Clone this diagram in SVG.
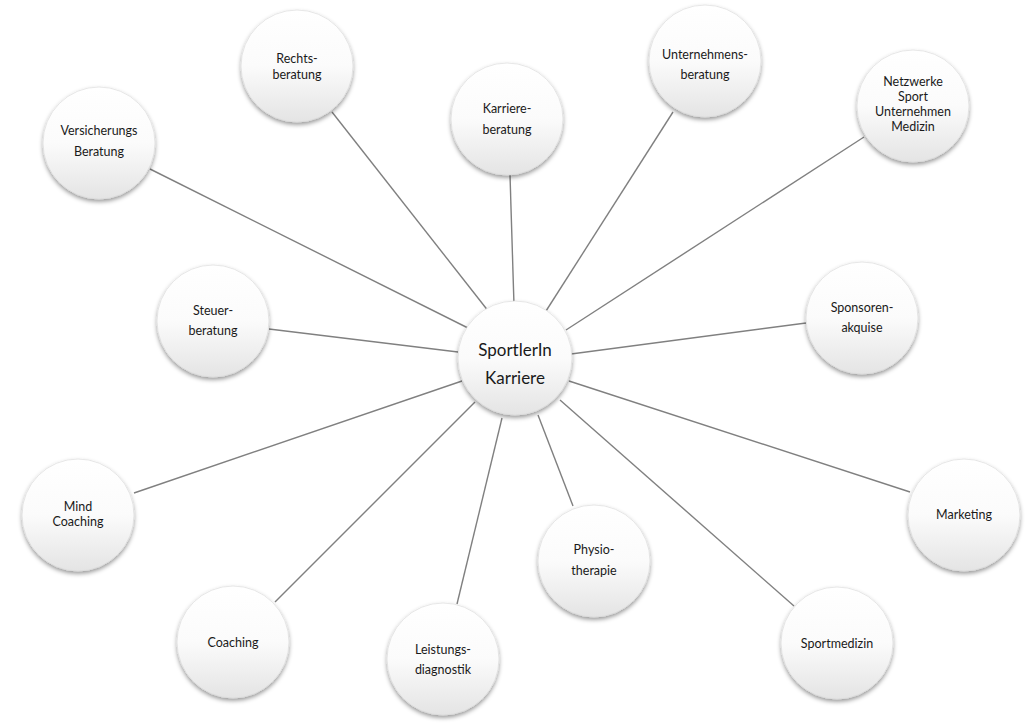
<svg xmlns="http://www.w3.org/2000/svg" width="1032" height="723" viewBox="0 0 1032 723">
<defs>
<linearGradient id="g" x1="0" y1="0" x2="0" y2="1">
<stop offset="0" stop-color="#ffffff"/>
<stop offset="0.5" stop-color="#fbfbfb"/>
<stop offset="1" stop-color="#e4e4e4"/>
</linearGradient>
<filter id="sh" x="-20%" y="-20%" width="140%" height="150%">
<feDropShadow dx="0" dy="2.5" stdDeviation="2" flood-color="#000" flood-opacity="0.4"/>
</filter>
</defs>
<style>
.c{fill:url(#g);stroke:#d8d8d8;stroke-width:0.6;filter:url(#sh)}
.t{font-family:Lato,"Liberation Sans",sans-serif;font-size:12.5px;fill:#1a1a1a;text-anchor:middle}
.m{font-size:17px}
.l{stroke:#808080;stroke-width:1.4;fill:none}
</style>
<rect width="1032" height="723" fill="#fff"/>
<g id="connectors">
<line class="l" x1="150" y1="169" x2="480" y2="334"/>
<line class="l" x1="332" y1="112" x2="489" y2="312"/>
<line class="l" x1="510" y1="175" x2="514" y2="305"/>
<line class="l" x1="673" y1="112" x2="546" y2="311"/>
<line class="l" x1="864" y1="137" x2="566" y2="330"/>
<line class="l" x1="269" y1="329" x2="458" y2="352"/>
<line class="l" x1="806" y1="323" x2="571" y2="354"/>
<line class="l" x1="134" y1="493" x2="462" y2="381"/>
<line class="l" x1="275" y1="602" x2="475" y2="402"/>
<line class="l" x1="457" y1="604" x2="502" y2="418"/>
<line class="l" x1="573" y1="506" x2="538" y2="415"/>
<line class="l" x1="794" y1="606" x2="560" y2="400"/>
<line class="l" x1="910" y1="492" x2="569" y2="381"/>
</g>
<g id="center"><circle class="c" cx="515" cy="358" r="57"/><text class="t m" x="515" y="356">SportlerIn</text><text class="t m" x="515" y="384">Karriere</text></g>
<g id="rechts"><circle class="c" cx="297" cy="66" r="56"/><text class="t" x="297" y="63">Rechts-</text><text class="t" x="297" y="79">beratung</text></g>
<g id="karriere"><circle class="c" cx="507" cy="119" r="56"/><text class="t" x="507" y="113">Karriere-</text><text class="t" x="507" y="134">beratung</text></g>
<g id="unternehmens"><circle class="c" cx="705" cy="61" r="56"/><text class="t" x="705" y="59">Unternehmens-</text><text class="t" x="705" y="79">beratung</text></g>
<g id="netzwerke"><circle class="c" cx="913" cy="106" r="56"/><text class="t" x="913" y="86">Netzwerke</text><text class="t" x="913" y="101">Sport</text><text class="t" x="913" y="116">Unternehmen</text><text class="t" x="913" y="131">Medizin</text></g>
<g id="versicherungs"><circle class="c" cx="99" cy="143" r="56"/><text class="t" x="99" y="135">Versicherungs</text><text class="t" x="99" y="156">Beratung</text></g>
<g id="steuer"><circle class="c" cx="213" cy="321" r="56"/><text class="t" x="213" y="315">Steuer-</text><text class="t" x="213" y="335">beratung</text></g>
<g id="sponsoren"><circle class="c" cx="862" cy="318" r="56"/><text class="t" x="862" y="312">Sponsoren-</text><text class="t" x="862" y="332">akquise</text></g>
<g id="mind"><circle class="c" cx="78" cy="515" r="56"/><text class="t" x="78" y="511">Mind</text><text class="t" x="78" y="526">Coaching</text></g>
<g id="marketing"><circle class="c" cx="964" cy="515" r="56"/><text class="t" x="964" y="519">Marketing</text></g>
<g id="physio"><circle class="c" cx="594" cy="561" r="56"/><text class="t" x="594" y="554">Physio-</text><text class="t" x="594" y="575">therapie</text></g>
<g id="coaching"><circle class="c" cx="233" cy="642" r="56"/><text class="t" x="233" y="647">Coaching</text></g>
<g id="leistungs"><circle class="c" cx="443" cy="659" r="56"/><text class="t" x="443" y="654">Leistungs-</text><text class="t" x="443" y="674">diagnostik</text></g>
<g id="sportmedizin"><circle class="c" cx="837" cy="643" r="56"/><text class="t" x="837" y="648">Sportmedizin</text></g>
</svg>
